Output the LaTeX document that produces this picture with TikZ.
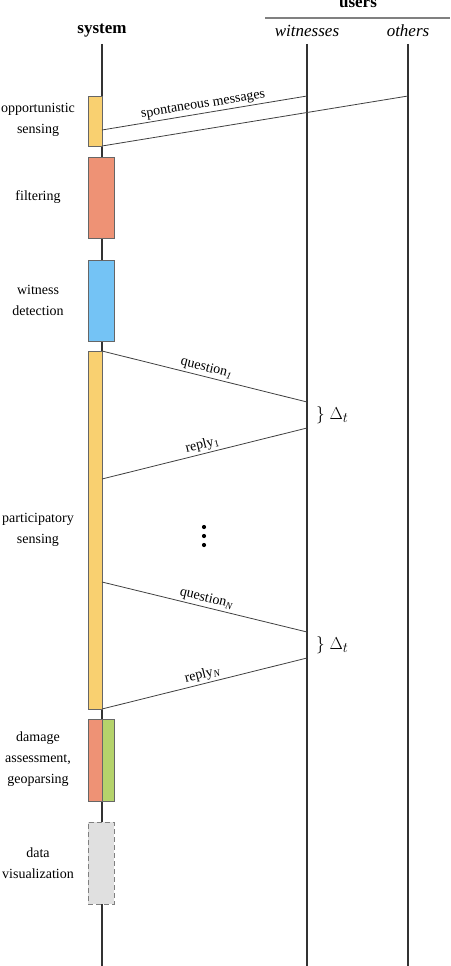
\documentclass[tikz,border=0pt]{standalone}
\usepackage{fontspec}
\setmainfont{Liberation Serif}
\definecolor{cyel}{HTML}{F9D070}
\definecolor{csal}{HTML}{EE9275}
\definecolor{cblu}{HTML}{74C3F5}
\definecolor{cgrn}{HTML}{B5D36B}
\definecolor{cgry}{HTML}{E0E0E0}
\begin{document}
\begin{tikzpicture}[x=1pt,y=-1pt,
  lifeline/.style={draw=black!80, line width=1.8pt},
  msg/.style={draw=black!75, line width=0.8pt},
  box/.style={draw=black!60, line width=1pt, rectangle, inner sep=0pt, outer sep=0pt},
  lab/.style={font=\fontsize{14}{21}\selectfont, align=center},
  mlab/.style={font=\fontsize{14}{16}\selectfont, sloped, above, inner sep=2pt},
  head/.style={font=\bfseries\fontsize{17}{20}\selectfont, anchor=base},
  sub/.style={font=\itshape\fontsize{17}{20}\selectfont, anchor=base},
  dlab/.style={font=\fontsize{19}{20}\selectfont, anchor=west, inner sep=0pt},
  dotn/.style={circle, fill=black, inner sep=0pt, minimum size=4.2pt}]
\useasboundingbox (0,0) rectangle (450,966);
% headers
\node[head] (users) at (358,8) {users};
\coordinate (uL) at (265,18);
\coordinate (uR) at (450,18);
\draw[draw=black!50, line width=1.2pt] (uL) -- (uR);
\node[head] (syshead) at (102,34) {system};
\node[sub] (wit) at (307,37) {witnesses};
\node[sub] (oth) at (408,37) {others};
% lifelines
\coordinate (sT) at (102,44); \coordinate (sB) at (102,966);
\coordinate (wT) at (307,44); \coordinate (wB) at (307,966);
\coordinate (oT) at (408,44); \coordinate (oB) at (408,966);
\draw[lifeline] (sT) -- (sB);
\draw[lifeline] (wT) -- (wB);
\draw[lifeline] (oT) -- (oB);
% boxes
\node[box, fill=cyel, minimum width=14pt, minimum height=50pt] (opp) at (95,121) {};
\node[box, fill=csal, minimum width=26pt, minimum height=81pt] (fil) at (101,197.5) {};
\node[box, fill=cblu, minimum width=26pt, minimum height=81pt] (wd) at (101,300.5) {};
\node[box, fill=cyel, minimum width=14pt, minimum height=358pt] (par) at (95,530) {};
\node[box, fill=csal, minimum width=14pt, minimum height=82pt] (dam) at (95,760) {};
\node[box, fill=cgrn, minimum width=12pt, minimum height=82pt] (geo) at (108,760) {};
\node[box, fill=cgry, draw=black!50, dashed, dash pattern=on 5pt off 3pt, minimum width=26pt, minimum height=82pt] (vis) at (101,863) {};
% left labels
\node[lab] (lopp) at (38,120) {opportunistic\\sensing};
\node[lab] (lfil) at (38,197) {filtering};
\node[lab] (lwd) at (38,300) {witness\\detection};
\node[lab] (lpar) at (38,530) {participatory\\sensing};
\node[lab] (ldam) at (38,759) {damage\\assessment,\\geoparsing};
\node[lab] (lvis) at (38,863) {data\\visualization};
% messages
\coordinate (s1a) at (102,130); \coordinate (s1b) at (307,96);
\coordinate (s2a) at (102,146); \coordinate (s2b) at (408,96);
\draw[msg] (s1a) -- node[mlab] {spontaneous messages} (s1b);
\draw[msg] (s2a) -- (s2b);
\coordinate (q1a) at (102,351); \coordinate (q1b) at (307,402);
\coordinate (r1a) at (307,428); \coordinate (r1b) at (102,479);
\draw[msg] (q1a) -- node[mlab] {question\textsubscript{\itshape 1}} (q1b);
\draw[msg] (r1b) -- node[mlab] {reply\textsubscript{1}} (r1a);
\coordinate (qNa) at (102,582); \coordinate (qNb) at (307,632);
\coordinate (rNa) at (307,658); \coordinate (rNb) at (102,709);
\draw[msg] (qNa) -- node[mlab] {question\textsubscript{\itshape N}} (qNb);
\draw[msg] (rNb) -- node[mlab] {reply\textsubscript{\itshape N}} (rNa);
% deltas
\node[dlab] (d1) at (316,415) {$\big\}\;\Delta_t$};
\node[dlab] (d2) at (316,645) {$\big\}\;\Delta_t$};
% dots
\node[dotn] (dot1) at (204,527) {};
\node[dotn] (dot2) at (204,536) {};
\node[dotn] (dot3) at (204,545) {};
\end{tikzpicture}
\end{document}
